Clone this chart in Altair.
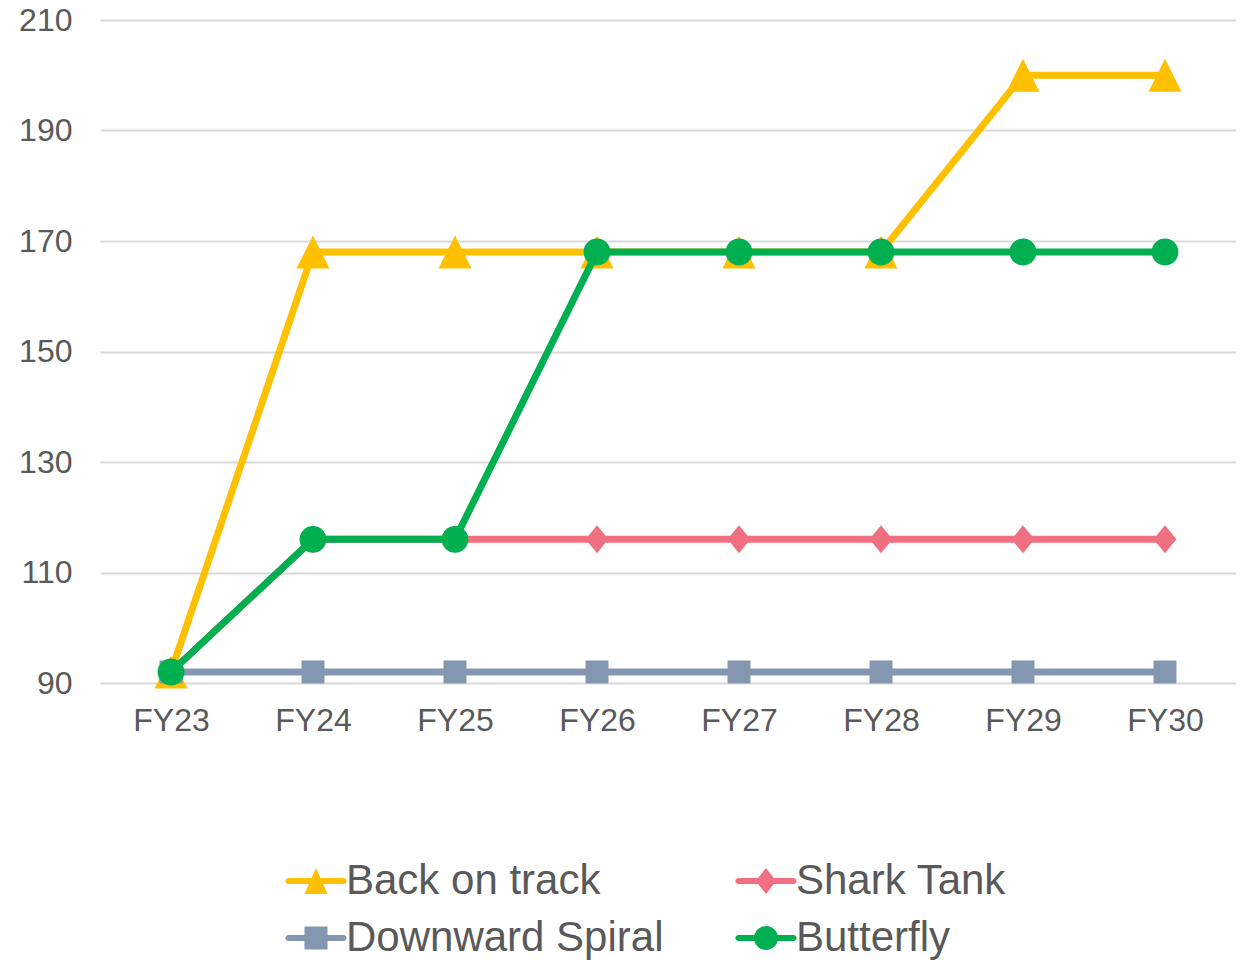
import altair as alt
import pandas as pd

years = ["FY23", "FY24", "FY25", "FY26", "FY27", "FY28", "FY29", "FY30"]
series_names = ["Back on track", "Shark Tank", "Downward Spiral", "Butterfly"]
back_on_track = [92, 168, 168, 168, 168, 168, 200, 200]
shark_tank = [92, 116, 116, 116, 116, 116, 116, 116]
downward_spiral = [92, 92, 92, 92, 92, 92, 92, 92]
butterfly = [92, 116, 116, 168, 168, 168, 168, 168]
y_ticks = [90, 110, 130, 150, 170, 190, 210]

colors = ["#FFC000", "#F07082", "#8497B0", "#00B050"]

rows = []
for name, vals in zip(series_names, [back_on_track, shark_tank, downward_spiral, butterfly]):
    for i, (yr, v) in enumerate(zip(years, vals)):
        rows.append({"year": yr, "value": v, "series": name, "idx": i})
df = pd.DataFrame(rows)

# marker shapes (unit = sqrt(size)/2)
tri = "M0,-1.18L1.18,1.18L-1.18,1.18Z"
dia = "M0,-1L0.82,0L0,1L-0.82,0Z"
sq = "M-0.82,-0.82H0.82V0.82H-0.82Z"
circ = "M0.96,0A0.96,0.96,0,1,1,-0.96,0A0.96,0.96,0,1,1,0.96,0Z"
marker_shapes = [tri, dia, sq, circ]

# legend symbols: line + marker
ln = "M-2.3,-0.25H2.3A0.25,0.25,0,0,1,2.3,0.25H-2.3A0.25,0.25,0,0,1,-2.3,-0.25Z"
legend_shapes = [
    ln + "M0,-1.08L0.96,1.08L-0.96,1.08Z",
    ln + "M0,-1.08L0.85,0L0,1.08L-0.85,0Z",
    ln + "M-0.96,-0.96H0.96V0.96H-0.96Z",
    ln + "M1,0A1,1,0,1,1,-1,0A1,1,0,1,1,1,0Z",
]

FONT = "Liberation Sans"
LABEL_COLOR = "#595959"

x_enc = alt.X(
    "year:N",
    sort=years,
    scale=alt.Scale(type="point", padding=0.5),
    axis=alt.Axis(
        title=None, labelAngle=0, labelFont=FONT, labelFontSize=32,
        labelColor=LABEL_COLOR, labelPadding=22, ticks=False, tickSize=0,
        domain=False, grid=False,
    ),
)
y_enc = alt.Y(
    "value:Q",
    scale=alt.Scale(domain=[90, 210], nice=False, zero=False),
    axis=alt.Axis(
        title=None, values=y_ticks, labelFont=FONT, labelFontSize=32,
        labelColor=LABEL_COLOR, labelPadding=28, ticks=False, tickSize=0,
        domain=False, gridColor="#D9D9D9", gridWidth=2,
    ),
)
color_scale = alt.Scale(domain=series_names, range=colors)

legend_def = alt.Legend(
    orient="none", legendX=195, legendY=840, columns=2, direction="horizontal",
    title=None, labelFont=FONT, labelFontSize=42, labelColor=LABEL_COLOR,
    labelLimit=0, symbolSize=576, symbolStrokeWidth=0, symbolOpacity=1,
    labelOffset=9, columnPadding=71, rowPadding=15, padding=0,
)
# invisible layer that only carries the legend (first, so its legend settings win)
legend_layer = alt.Chart(df).mark_point(
    filled=True, size=576, opacity=0, strokeWidth=0
).encode(
    x=x_enc, y=y_enc,
    color=alt.Color("series:N", scale=color_scale, legend=legend_def),
    shape=alt.Shape("series:N", scale=alt.Scale(domain=series_names, range=legend_shapes),
                    legend=legend_def),
)

layers = [legend_layer]
for name, shp in zip(series_names, marker_shapes):
    base = alt.Chart(df).transform_filter(alt.datum.series == name)
    layers.append(
        base.mark_line(strokeWidth=7, strokeJoin="round").encode(
            x=x_enc, y=y_enc,
            color=alt.Color("series:N", scale=color_scale, legend=None),
            order="idx:Q",
        )
    )
    layers.append(
        base.mark_point(filled=True, size=784, opacity=1, strokeWidth=0, shape=shp).encode(
            x=x_enc, y=y_enc,
            color=alt.Color("series:N", scale=color_scale, legend=None),
        )
    )

chart = alt.layer(*layers).properties(
    width=1136,
    height=663,
    autosize=alt.AutoSizeParams(type="none"),
    padding={"left": 92, "top": 12, "right": 0, "bottom": 277},
).configure_view(stroke=None)

chart.save("out.html", embed_options={"renderer": "svg", "actions": False})
